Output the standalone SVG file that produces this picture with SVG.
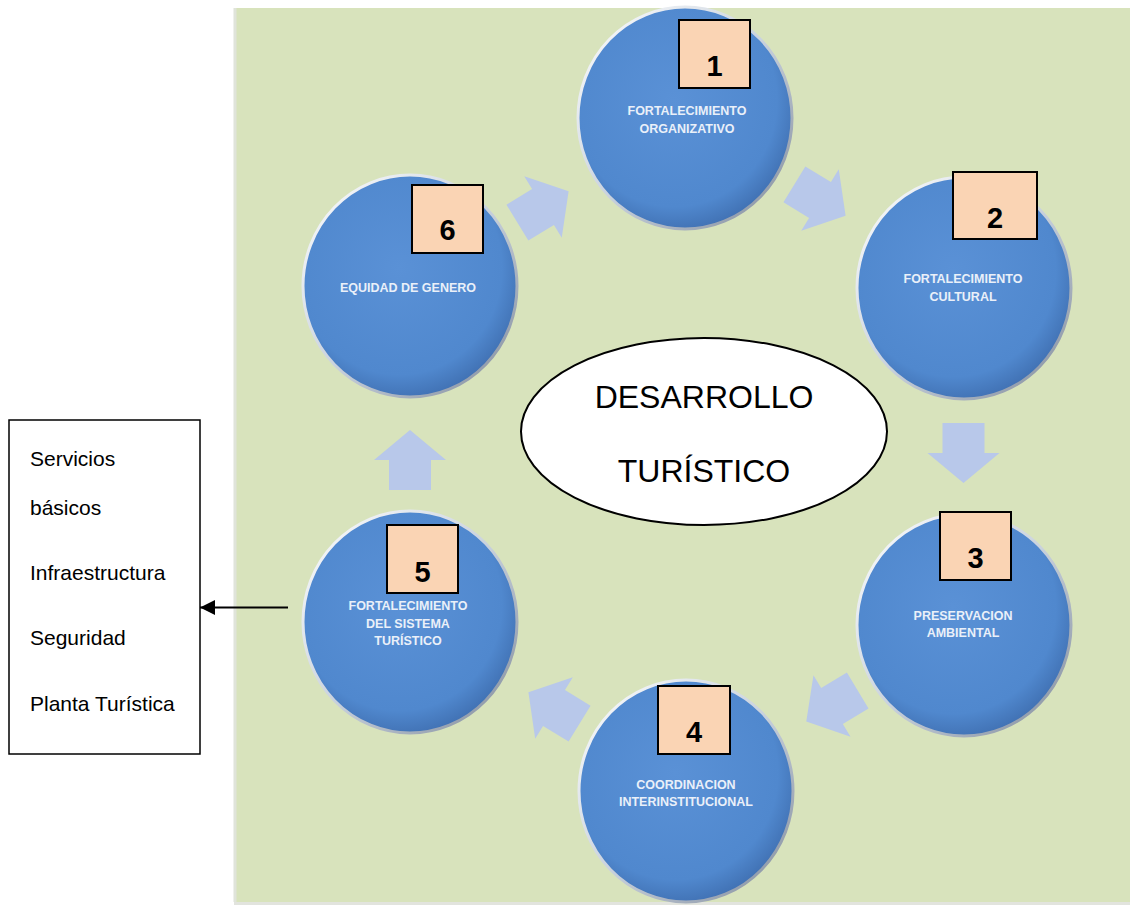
<svg xmlns="http://www.w3.org/2000/svg" width="1130" height="911" viewBox="0 0 1130 911">
  <style>
    .lbl { font-family: "Liberation Sans", Arial, sans-serif; font-size: 12.5px; font-weight: bold; fill: #EAF0F9; text-anchor: middle; }
    .num { font-family: "Liberation Sans", Arial, sans-serif; font-size: 29px; font-weight: bold; fill: #000; text-anchor: middle; }
    .box { fill: #FAD4B4; stroke: #000; stroke-width: 2; }
    .side { font-family: "Liberation Sans", Arial, sans-serif; font-size: 21px; fill: #000; }
    .big { font-family: "Liberation Sans", Arial, sans-serif; font-size: 32px; fill: #000; text-anchor: middle; }
    .bub { fill: url(#bubFill); stroke: url(#rim); stroke-width: 3; }
    .barrow { fill: #B8C8EA; }
  </style>
  <defs>
    <radialGradient id="bubFill" cx="45%" cy="42%" r="60%">
      <stop offset="0%" stop-color="#5A91D6"/>
      <stop offset="80%" stop-color="#5088CE"/>
      <stop offset="100%" stop-color="#4070B2"/>
    </radialGradient>
    <linearGradient id="rim" x1="0" y1="0" x2="1" y2="1">
      <stop offset="0%" stop-color="#FFFFFF"/>
      <stop offset="50%" stop-color="#C9D2DE"/>
      <stop offset="100%" stop-color="#7F8A9A"/>
    </linearGradient>
    <path id="blk" d="M-30,-21 L0,-21 L0,-36 L30,0 L0,36 L0,21 L-30,21 Z"/>
    <marker id="ah" markerWidth="16" markerHeight="16" refX="15" refY="8" orient="auto" markerUnits="userSpaceOnUse" viewBox="0 0 16 16">
      <path d="M0,0.5 L15,8 L0,15.5 Z" fill="#000"/>
    </marker>
  </defs>

  <rect x="0" y="0" width="1130" height="911" fill="#FFFFFF"/>

  <g id="background">
    <rect x="234" y="8" width="896" height="894" fill="#D8E3BC"/>
    <line x1="234" y1="903.5" x2="1130" y2="903.5" stroke="#E2E4DE" stroke-width="3"/>
    <line x1="235" y1="8" x2="235" y2="902" stroke="#E0E4DA" stroke-width="3"/>
  </g>

  <g id="connectors">
    <use href="#blk" class="barrow" transform="translate(543,207) rotate(-31.4)"/>
    <use href="#blk" class="barrow" transform="translate(820,200) rotate(31.4)"/>
    <use href="#blk" class="barrow" transform="translate(963.5,453) rotate(90)"/>
    <use href="#blk" class="barrow" transform="translate(832,706) rotate(149)"/>
    <use href="#blk" class="barrow" transform="translate(554,708) rotate(211.5)"/>
    <use href="#blk" class="barrow" transform="translate(410,460) rotate(-90)"/>
    <line x1="288" y1="607.5" x2="200" y2="607.5" stroke="#000" stroke-width="2" marker-end="url(#ah)"/>
  </g>

  <g id="node1">
    <ellipse class="bub" cx="685" cy="118" rx="107" ry="111"/>
    <text class="lbl" x="687" y="115">FORTALECIMIENTO</text>
    <text class="lbl" x="687" y="133">ORGANIZATIVO</text>
    <rect class="box" x="679" y="20" width="71" height="68"/>
    <text class="num" x="714.5" y="76">1</text>
  </g>

  <g id="node2">
    <ellipse class="bub" cx="964" cy="288" rx="107" ry="111"/>
    <text class="lbl" x="963" y="283">FORTALECIMIENTO</text>
    <text class="lbl" x="963" y="301">CULTURAL</text>
    <rect class="box" x="953" y="172" width="84" height="67"/>
    <text class="num" x="995" y="228">2</text>
  </g>

  <g id="node3">
    <ellipse class="bub" cx="964" cy="625" rx="107" ry="111"/>
    <text class="lbl" x="963" y="620">PRESERVACION</text>
    <text class="lbl" x="963" y="637">AMBIENTAL</text>
    <rect class="box" x="940" y="512" width="71" height="68"/>
    <text class="num" x="975.5" y="568">3</text>
  </g>

  <g id="node4">
    <ellipse class="bub" cx="686" cy="791" rx="107" ry="111"/>
    <text class="lbl" x="686" y="789">COORDINACION</text>
    <text class="lbl" x="686" y="806">INTERINSTITUCIONAL</text>
    <rect class="box" x="658" y="686" width="72" height="68"/>
    <text class="num" x="694" y="742">4</text>
  </g>

  <g id="node5">
    <ellipse class="bub" cx="410" cy="622" rx="107" ry="111"/>
    <text class="lbl" x="408" y="610">FORTALECIMIENTO</text>
    <text class="lbl" x="408" y="628">DEL SISTEMA</text>
    <text class="lbl" x="408" y="645">TURÍSTICO</text>
    <rect class="box" x="387" y="525" width="71" height="68"/>
    <text class="num" x="422.5" y="582">5</text>
  </g>

  <g id="node6">
    <ellipse class="bub" cx="410" cy="286" rx="107" ry="111"/>
    <text class="lbl" x="408" y="292">EQUIDAD DE GENERO</text>
    <rect class="box" x="412" y="185" width="71" height="68"/>
    <text class="num" x="447.5" y="240">6</text>
  </g>

  <g id="center">
    <ellipse cx="704" cy="431.5" rx="183" ry="93.5" fill="#FFFFFF" stroke="#000" stroke-width="2"/>
    <text class="big" x="704" y="408">DESARROLLO</text>
    <text class="big" x="704" y="482">TURÍSTICO</text>
  </g>

  <g id="sidebox">
    <rect x="9" y="420" width="191" height="334" fill="#FFFFFF" stroke="#000" stroke-width="1.5"/>
    <text class="side" x="30" y="466">Servicios</text>
    <text class="side" x="30" y="515">básicos</text>
    <text class="side" x="30" y="580">Infraestructura</text>
    <text class="side" x="30" y="645">Seguridad</text>
    <text class="side" x="30" y="711">Planta Turística</text>
  </g>
</svg>
